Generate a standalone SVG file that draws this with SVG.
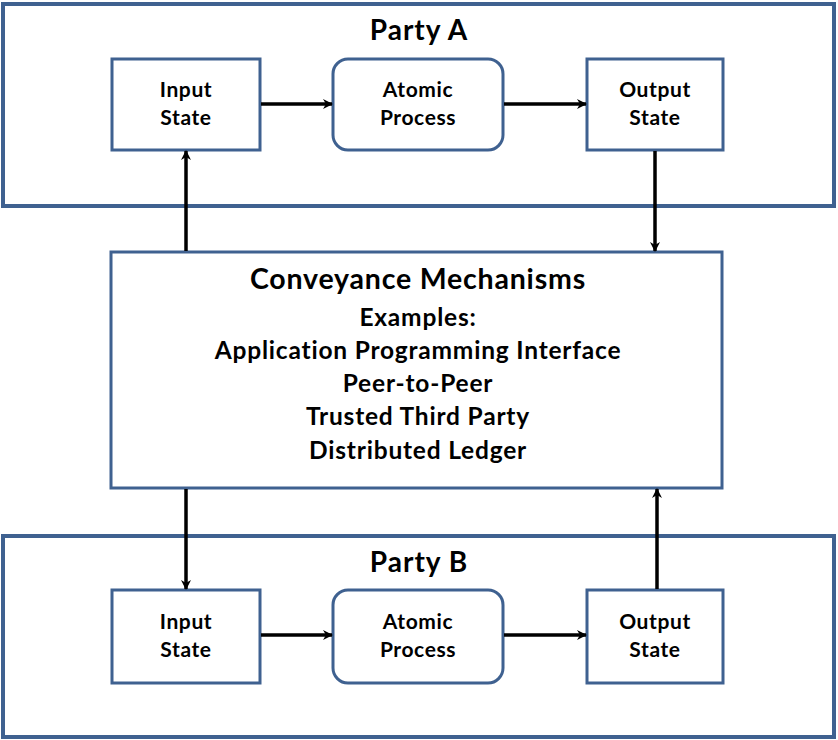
<svg xmlns="http://www.w3.org/2000/svg" width="838" height="740" viewBox="0 0 838 740">
<style>
.frame{fill:#fff;stroke:#3f6190;stroke-width:4}
.node{fill:#fff;stroke:#3f6190;stroke-width:3}
.t{font-family:Lato,"Liberation Sans",sans-serif;font-weight:bold;fill:#000;text-anchor:middle}
.s{font-size:21px;letter-spacing:0.6px}
.title{font-size:28px;letter-spacing:1px}
.big{font-size:28.5px;letter-spacing:0.8px}
.mid{font-size:24.5px;letter-spacing:0.8px}
.c{stroke:#000;stroke-width:3.5;fill:none;marker-end:url(#ah)}
</style>
<defs>
<marker id="ah" markerWidth="10" markerHeight="10" refX="9" refY="5" orient="auto" markerUnits="userSpaceOnUse">
<path d="M0,0 L10,5 L0,10 L3,5 Z" fill="#000"/>
</marker>
</defs>
<g id="partyA">
<rect class="frame" x="3" y="4" width="831" height="202"/>
<text class="t title" x="419" y="40">Party A</text>
</g>
<g id="partyB">
<rect class="frame" x="3" y="536" width="831" height="201"/>
<text class="t title" x="419" y="572">Party B</text>
</g>
<g id="inputA">
<rect class="node" x="112" y="59" width="148" height="91"/>
<text class="t s" x="186" y="97">Input</text>
<text class="t s" x="186" y="125">State</text>
</g>
<g id="atomicA">
<rect class="node" x="333" y="59" width="170" height="91" rx="15"/>
<text class="t s" x="418" y="97">Atomic</text>
<text class="t s" x="418" y="125">Process</text>
</g>
<g id="outputA">
<rect class="node" x="587" y="59" width="136" height="91"/>
<text class="t s" x="655" y="97">Output</text>
<text class="t s" x="655" y="125">State</text>
</g>
<g id="conveyance">
<rect class="node" x="111" y="252" width="611" height="236"/>
<text class="t big" x="418" y="289">Conveyance Mechanisms</text>
<text class="t mid" x="418" y="326">Examples:</text>
<text class="t mid" x="418" y="359">Application Programming Interface</text>
<text class="t mid" x="418" y="392">Peer-to-Peer</text>
<text class="t mid" x="418" y="425">Trusted Third Party</text>
<text class="t mid" x="418" y="459">Distributed Ledger</text>
</g>
<g id="inputB">
<rect class="node" x="112" y="590" width="148" height="93"/>
<text class="t s" x="186" y="629">Input</text>
<text class="t s" x="186" y="657">State</text>
</g>
<g id="atomicB">
<rect class="node" x="333" y="590" width="170" height="93" rx="15"/>
<text class="t s" x="418" y="629">Atomic</text>
<text class="t s" x="418" y="657">Process</text>
</g>
<g id="outputB">
<rect class="node" x="587" y="590" width="136" height="93"/>
<text class="t s" x="655" y="629">Output</text>
<text class="t s" x="655" y="657">State</text>
</g>
<g id="connectors">
<line class="c" x1="261" y1="104" x2="332" y2="104"/>
<line class="c" x1="504" y1="104" x2="586" y2="104"/>
<line class="c" x1="186" y1="251" x2="186" y2="151"/>
<line class="c" x1="655" y1="151" x2="655" y2="251"/>
<line class="c" x1="186" y1="489" x2="186" y2="589"/>
<line class="c" x1="657" y1="589" x2="657" y2="489"/>
<line class="c" x1="261" y1="635" x2="332" y2="635"/>
<line class="c" x1="504" y1="635" x2="586" y2="635"/>
</g>
</svg>
